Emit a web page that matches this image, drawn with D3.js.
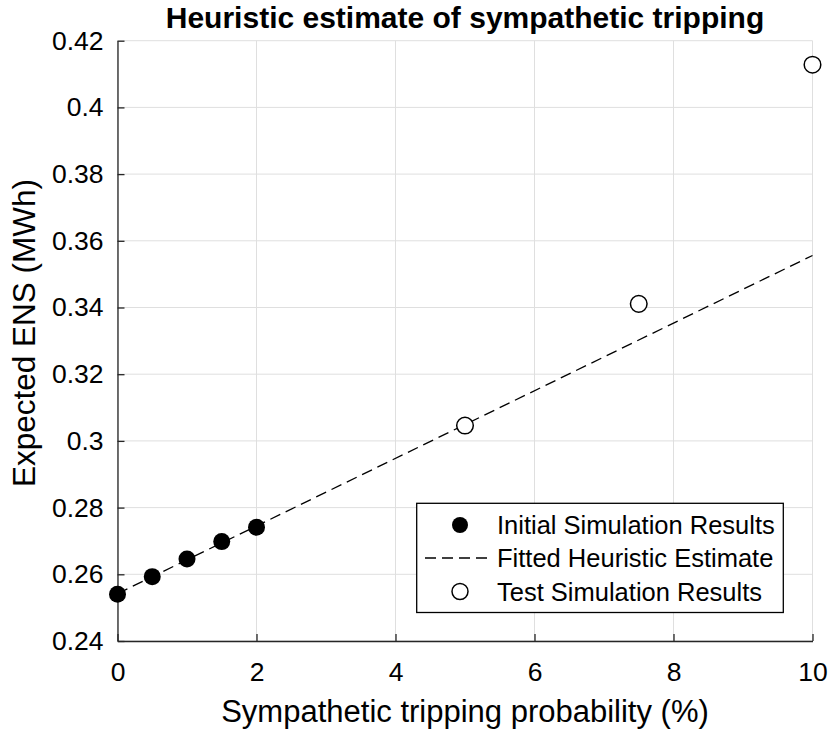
<!DOCTYPE html>
<html>
<head>
<meta charset="utf-8">
<script src="https://cdn.jsdelivr.net/npm/d3@7"></script>
<style>
  html, body { margin: 0; padding: 0; background: #fff; }
  svg { display: block; font-family: "Liberation Sans", Arial, sans-serif; }
</style>
</head>
<body>
<svg id="chart" width="830" height="733"></svg>
<script>
// Initial simulation runs (filled markers)
const initialX = [0, 0.5, 1, 1.5, 2];
const initialY = [0.2540, 0.2593, 0.2646, 0.2698, 0.2741];

// Test simulation runs (open markers)
const testX = [5, 7.5, 10];
const testY = [0.3046, 0.3411, 0.4128];

// Fitted heuristic estimate (straight line end points)
const fitX = [0, 10];
const fitY = [0.2542, 0.3556];

// Axis ticks
const xTicks = [0, 2, 4, 6, 8, 10];
const yTicks = [0.24, 0.26, 0.28, 0.30, 0.32, 0.34, 0.36, 0.38, 0.40, 0.42];

const titleText = "Heuristic estimate of sympathetic tripping";
const xLabelText = "Sympathetic tripping probability (%)";
const yLabelText = "Expected ENS (MWh)";
const legendLabels = ["Initial Simulation Results", "Fitted Heuristic Estimate", "Test Simulation Results"];

const svg = d3.select("#chart");
const m = { left: 117.5, right: 812.5, top: 40.7, bottom: 641 };

const x = d3.scaleLinear().domain([0, 10]).range([m.left, m.right]);
const y = d3.scaleLinear().domain([0.24, 0.42]).range([m.bottom, m.top]);

const axisColor = "#262626";
const gridColor = "#dfdfdf";

// Grid lines
const grid = svg.append("g");
grid.selectAll("line.gx").data(xTicks).join("line")
  .attr("x1", d => x(d)).attr("x2", d => x(d))
  .attr("y1", m.top).attr("y2", m.bottom)
  .attr("stroke", gridColor).attr("stroke-width", 1);
grid.selectAll("line.gy").data(yTicks).join("line")
  .attr("x1", m.left).attr("x2", m.right)
  .attr("y1", d => y(d)).attr("y2", d => y(d))
  .attr("stroke", gridColor).attr("stroke-width", 1);

// Axes (inward ticks)
const fmtY = d => String(+d.toFixed(2));
const xAxis = svg.append("g")
  .attr("transform", `translate(0,${m.bottom})`)
  .call(d3.axisBottom(x).tickValues(xTicks).tickSizeInner(-7).tickSizeOuter(0).tickPadding(21).tickFormat(d3.format("d")));
const yAxis = svg.append("g")
  .attr("transform", `translate(${m.left},0)`)
  .call(d3.axisLeft(y).tickValues(yTicks).tickSizeInner(-7).tickSizeOuter(0).tickPadding(14).tickFormat(fmtY));

[xAxis, yAxis].forEach(a => {
  a.select(".domain").attr("stroke", axisColor).attr("stroke-width", 1.3);
  a.selectAll(".tick line").attr("stroke", axisColor).attr("stroke-width", 1.3);
  a.selectAll(".tick text").attr("fill", "#000").style("font-size", "26.5px")
    .style("font-family", "'Liberation Sans', Arial, sans-serif");
});

// Fitted line
const line = d3.line().x(d => x(d[0])).y(d => y(d[1]));
svg.append("path")
  .datum(d3.zip(fitX, fitY))
  .attr("d", line)
  .attr("fill", "none")
  .attr("stroke", "#000")
  .attr("stroke-width", 1.3)
  .attr("stroke-dasharray", "11,6");

// Initial simulation markers
svg.append("g").selectAll("circle").data(d3.zip(initialX, initialY)).join("circle")
  .attr("cx", d => x(d[0])).attr("cy", d => y(d[1])).attr("r", 8.5)
  .attr("fill", "#000");

// Test simulation markers
svg.append("g").selectAll("circle").data(d3.zip(testX, testY)).join("circle")
  .attr("cx", d => x(d[0])).attr("cy", d => y(d[1])).attr("r", 8.3)
  .attr("fill", "#fff").attr("stroke", "#000").attr("stroke-width", 1.5);

// Title and axis labels
svg.append("text")
  .attr("x", (m.left + m.right) / 2).attr("y", 28)
  .attr("text-anchor", "middle")
  .style("font-size", "30px").style("font-weight", "bold")
  .text(titleText);

svg.append("text")
  .attr("x", (m.left + m.right) / 2).attr("y", 722)
  .attr("text-anchor", "middle")
  .style("font-size", "31px")
  .text(xLabelText);

svg.append("text")
  .attr("transform", `translate(35,333) rotate(-90)`)
  .attr("text-anchor", "middle")
  .style("font-size", "31.5px")
  .text(yLabelText);

// Legend
const lg = svg.append("g");
lg.append("rect")
  .attr("x", 416.7).attr("y", 503.3).attr("width", 366.6).attr("height", 109.2)
  .attr("fill", "#fff").attr("stroke", "#000").attr("stroke-width", 1.3);
const rowY = [525, 558, 591.5];
lg.append("circle").attr("cx", 460).attr("cy", rowY[0]).attr("r", 8).attr("fill", "#000");
lg.append("line").attr("x1", 425).attr("x2", 490).attr("y1", rowY[1]).attr("y2", rowY[1])
  .attr("stroke", "#000").attr("stroke-width", 1.3).attr("stroke-dasharray", "11,6");
lg.append("circle").attr("cx", 460).attr("cy", rowY[2]).attr("r", 8)
  .attr("fill", "#fff").attr("stroke", "#000").attr("stroke-width", 1.5);
lg.selectAll("text").data(legendLabels).join("text")
  .attr("x", 497).attr("y", (d, i) => rowY[i])
  .attr("dy", "0.36em")
  .style("font-size", "25.5px")
  .text(d => d);
</script>
</body>
</html>
